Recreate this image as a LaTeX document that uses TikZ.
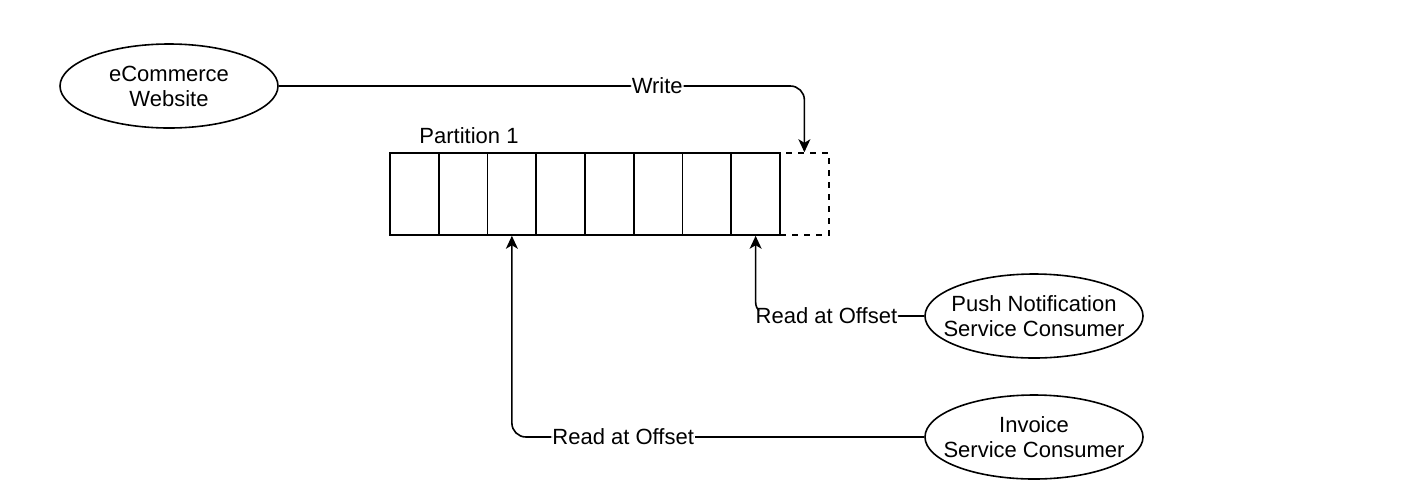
\documentclass[tikz,border=0pt]{standalone}
\usepackage{xcolor}
\usepackage{fontspec}
\setmainfont{Liberation Sans}
\usetikzlibrary{arrows.meta,shapes.geometric}

\begin{document}
\begin{tikzpicture}[x=0.5pt, y=-0.5pt, line width=0.8pt,
    every node/.style={font=\fontsize{11}{12.5}\selectfont},
    actor/.style={draw, ellipse, inner sep=0pt, minimum width=109pt, minimum height=42pt,
        label={[align=center]center:#1}},
    cell/.style={draw, rectangle, minimum width=24.375pt, minimum height=41pt, inner sep=0pt},
    lbl/.style={fill=white, inner sep=0.5pt},
    arr/.style={-{Stealth[length=6.5pt, width=6pt, inset=1.8pt]}, rounded corners=7pt}]
    \useasboundingbox (0,0) rectangle (1408,488);

    \node (web) [actor={eCommerce\\Website}] at (169,86) {};
    \node (push) [actor={Push Notification\\Service Consumer}] at (1034,316) {};
    \node (invoice) [actor={Invoice\\Service Consumer}] at (1034,437) {};

    % partition cells
    \foreach \i in {1,...,8}
        \node (c\i) [cell] at ({390+48.75*(\i-0.5)},194) {};
    \node (c9) [cell, dashed] at ({390+48.75*8.5},194) {};
    \node (part) [anchor=west] at (412,136) {Partition 1};

    \draw[arr] (web.east) -- node[lbl, pos=0.72] {Write} (c9.north |- web.east) -- (c9.north);
    \draw[arr] (push.west) -- node[lbl, pos=0.58] {Read at Offset} (c8.south |- push.west) -- (c8.south);
    \draw[arr] (invoice.west) -- node[lbl, pos=0.73] {Read at Offset} (c3.south |- invoice.west) -- (c3.south);
\end{tikzpicture}
\end{document}
